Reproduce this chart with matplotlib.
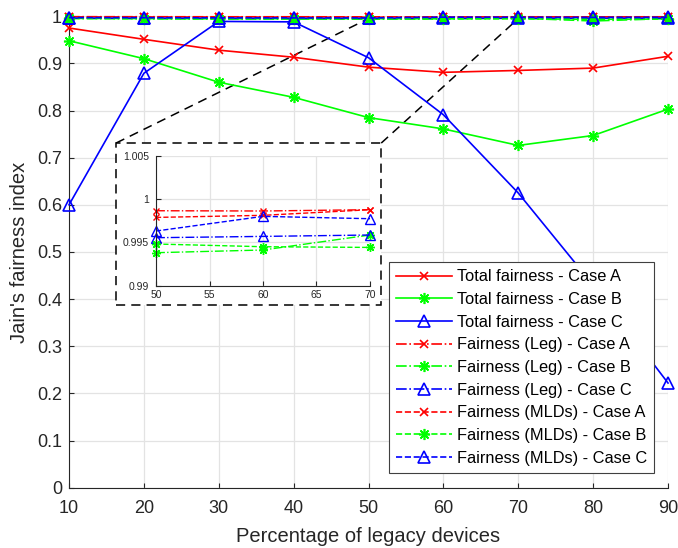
import matplotlib
matplotlib.use("Agg")
import matplotlib.pyplot as plt
from matplotlib.patches import Rectangle
import numpy as np

plt.rcParams['font.family'] = ['Liberation Sans', 'DejaVu Sans']

# percentage of legacy devices
pct = [10, 20, 30, 40, 50, 60, 70, 80, 90]

total_a = [0.975, 0.951, 0.928, 0.913, 0.892, 0.881, 0.885, 0.890, 0.915]
total_b = [0.948, 0.910, 0.860, 0.828, 0.785, 0.761, 0.726, 0.747, 0.803]
total_c = [0.600, 0.879, 0.989, 0.988, 0.912, 0.791, 0.625, 0.430, 0.222]

leg_a = [0.9990, 0.9989, 0.9988, 0.9988, 0.99865, 0.99862, 0.99877, 0.9987, 0.9988]
leg_b = [0.9950, 0.9945, 0.9940, 0.9940, 0.99381, 0.99412, 0.99585, 0.9900, 0.9950]
leg_c = [0.9960, 0.9958, 0.9957, 0.9956, 0.99554, 0.99569, 0.99585, 0.9958, 0.9960]

mld_a = [0.9985, 0.9984, 0.9983, 0.9981, 0.99788, 0.99812, 0.99877, 0.9985, 0.9986]
mld_b = [0.9955, 0.9950, 0.9945, 0.9948, 0.99481, 0.99450, 0.99442, 0.9935, 0.9940]
mld_c = [0.9970, 0.9968, 0.9965, 0.9964, 0.99631, 0.99800, 0.99773, 0.9975, 0.9976]

labels = ['Total fairness - Case A', 'Total fairness - Case B', 'Total fairness - Case C',
          'Fairness (Leg) - Case A', 'Fairness (Leg) - Case B', 'Fairness (Leg) - Case C',
          'Fairness (MLDs) - Case A', 'Fairness (MLDs) - Case B', 'Fairness (MLDs) - Case C']

star = (8, 2, 0)  # matlab style asterisk
styles = [
    (total_a, 'r', '-', 'x', 6),
    (total_b, '#00ff00', '-', star, 8),
    (total_c, 'b', '-', '^', 9),
    (leg_a, 'r', '-.', 'x', 6),
    (leg_b, '#00ff00', '-.', star, 8),
    (leg_c, 'b', '-.', '^', 9),
    (mld_a, 'r', '--', 'x', 6),
    (mld_b, '#00ff00', '--', star, 8),
    (mld_c, 'b', '--', '^', 9),
]

grid_col = '#e3e3e3'
spine_col = '#262626'


def style_axes(ax, fs, xpad, ypad):
    for s in ['top', 'right']:
        ax.spines[s].set_visible(False)
    for s in ['left', 'bottom']:
        ax.spines[s].set_color(spine_col)
        ax.spines[s].set_linewidth(0.8)
    ax.tick_params(direction='in', colors=spine_col, labelsize=fs, width=0.8)
    ax.tick_params(axis='x', pad=xpad)
    ax.tick_params(axis='y', pad=ypad)
    ax.grid(True, color=grid_col, linewidth=0.9)
    ax.set_axisbelow(True)


fig = plt.figure(figsize=(6.78, 5.48), dpi=100)
ax = fig.add_axes([0.1018, 0.11, 0.8835, 0.8604])

handles = []
for vals, col, ls, mk, ms in styles:
    h, = ax.plot(pct, vals, color=col, linestyle=ls, marker=mk, markersize=ms,
                 markerfacecolor='none', markeredgewidth=1.2, linewidth=1.2,
                 clip_on=False, zorder=3)
    handles.append(h)

ax.set_xlim(10, 90)
ax.set_ylim(0, 1)
ax.set_xticks(np.arange(10, 91, 10))
ax.set_yticks(np.arange(0, 1.01, 0.1))
ax.set_yticklabels(['0', '0.1', '0.2', '0.3', '0.4', '0.5', '0.6', '0.7', '0.8', '0.9', '1'])
style_axes(ax, 13, 9, 5)
ax.set_xlabel('Percentage of legacy devices', fontsize=14.5, color=spine_col, labelpad=7)
ax.set_ylabel("Jain's fairness index", fontsize=14.5, color=spine_col, labelpad=6)

# zoom box and connectors
bx0, bx1, by0, by1 = 16.28, 51.7, 0.387, 0.731
ax.add_patch(Rectangle((bx0, by0), bx1 - bx0, by1 - by0, facecolor='white',
                       edgecolor='k', linestyle=(0, (6, 4)), linewidth=1.1, zorder=4))
ax.plot([bx0, 50], [by1, 0.995], color='k', linestyle=(0, (6, 4)), linewidth=1.1, zorder=2)
ax.plot([bx1, 70], [by1, 0.995], color='k', linestyle=(0, (6, 4)), linewidth=1.1, zorder=2)

leg = ax.legend(handles, labels, loc='lower right', bbox_to_anchor=(0.977, 0.031),
                borderaxespad=0, fontsize=11.75, frameon=True, fancybox=False, framealpha=1,
                edgecolor='#404040', handlelength=3.4, labelspacing=0.47,
                borderpad=0.45, handletextpad=0.3)
leg.get_frame().set_linewidth(0.8)
leg.set_zorder(6)

# inset
axin = fig.add_axes([0.2301, 0.4786, 0.3156, 0.2373], zorder=5)
for vals, col, ls, mk, ms in styles[3:]:
    axin.plot(pct[4:7], vals[4:7], color=col, linestyle=ls, marker=mk, markersize=ms * 0.8,
              markerfacecolor='none', markeredgewidth=1.0, linewidth=1.0, clip_on=False)
axin.set_xlim(50, 70)
axin.set_ylim(0.99, 1.005)
axin.set_xticks([50, 55, 60, 65, 70])
axin.set_yticks([0.99, 0.995, 1.0, 1.005])
axin.set_yticklabels(['0.99', '0.995', '1', '1.005'])
style_axes(axin, 7.5, 3, 5)

fig.savefig('out.png', dpi=100)
